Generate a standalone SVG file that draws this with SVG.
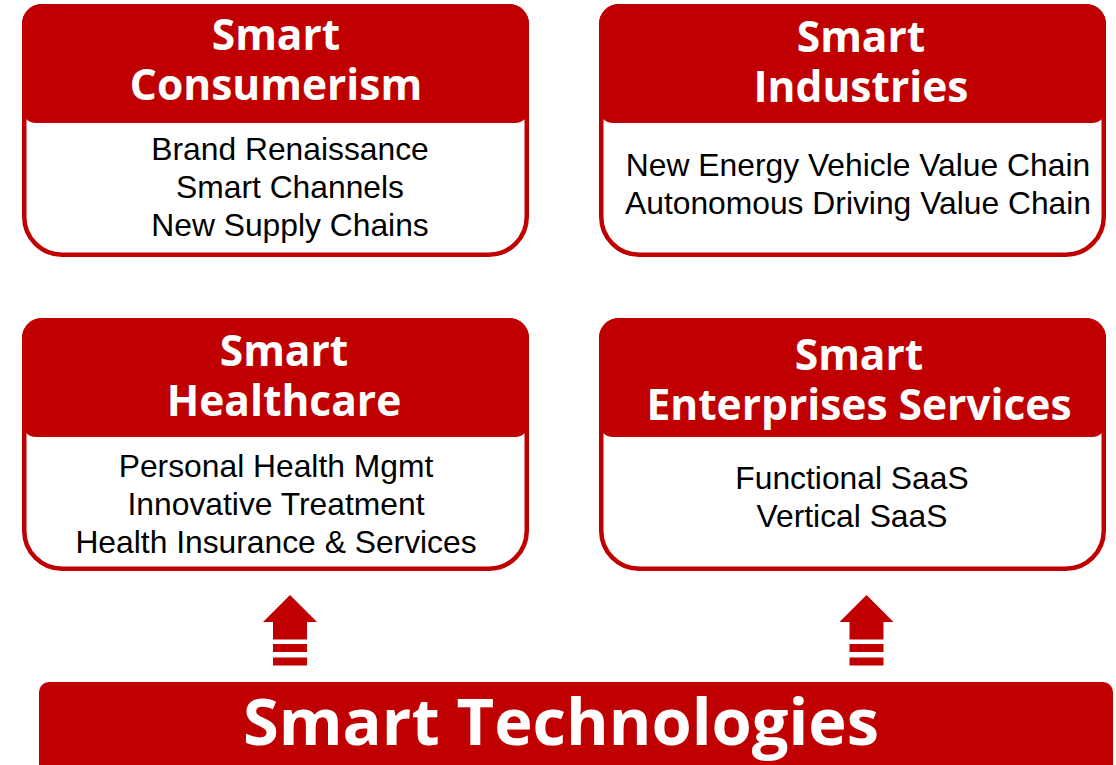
<svg xmlns="http://www.w3.org/2000/svg" xmlns:xlink="http://www.w3.org/1999/xlink" width="1116" height="765" viewBox="0 0 1116 765">
<style>
.outline{fill:#fff;stroke:#C00000;stroke-width:4.5}
.header{fill:#C00000}
.title{font-family:"Open Sans","Noto Sans",sans-serif;font-weight:bold;font-size:42.5px;fill:#fff;text-anchor:middle}
.body{font-family:"Liberation Sans",Arial,sans-serif;font-size:31.8px;fill:#000;text-anchor:middle}
.arrow{fill:#C00000}
.big{font-family:"Open Sans","Noto Sans",sans-serif;font-weight:bold;font-size:65px;fill:#fff;text-anchor:middle}
</style>
<defs>
<path id="boxOutline" class="outline" d="M2.25,20.25 A18,18 0 0 1 20.25,2.25 H486.75 A18,18 0 0 1 504.75,20.25 V212.75 A38,38 0 0 1 466.75,250.75 H40.25 A38,38 0 0 1 2.25,212.75 Z"/>
<path id="boxHeader" class="header" d="M0,20 A20,20 0 0 1 20,0 H487 A20,20 0 0 1 507,20 V105 A14,14 0 0 1 493,119 H14 A14,14 0 0 1 0,105 Z"/>
<path id="upArrow" class="arrow" d="M0,0 L27,27 H17 V44.5 H-17 V27 H-27 Z M-17,49 H17 V57 H-17 Z M-17,62.5 H17 V70.5 H-17 Z"/>
</defs>

<g id="node-consumerism">
<use xlink:href="#boxOutline" x="22" y="4"/>
<use xlink:href="#boxHeader" x="22" y="4"/>
<text class="title" x="276" y="50">Smart</text>
<text class="title" x="276" y="100">Consumerism</text>
<text class="body" x="290" y="160">Brand Renaissance</text>
<text class="body" x="290" y="198">Smart Channels</text>
<text class="body" x="290" y="236">New Supply Chains</text>
</g>

<g id="node-industries">
<use xlink:href="#boxOutline" x="599" y="4"/>
<use xlink:href="#boxHeader" x="599" y="4"/>
<text class="title" x="861" y="52">Smart</text>
<text class="title" x="861" y="102">Industries</text>
<text class="body" x="858" y="176">New Energy Vehicle Value Chain</text>
<text class="body" x="858" y="214">Autonomous Driving Value Chain</text>
</g>

<g id="node-healthcare">
<use xlink:href="#boxOutline" x="22" y="318"/>
<use xlink:href="#boxHeader" x="22" y="318"/>
<text class="title" x="284" y="366">Smart</text>
<text class="title" x="284" y="416">Healthcare</text>
<text class="body" x="276" y="477">Personal Health Mgmt</text>
<text class="body" x="276" y="515">Innovative Treatment</text>
<text class="body" x="276" y="553">Health Insurance &amp; Services</text>
</g>

<g id="node-enterprise">
<use xlink:href="#boxOutline" x="599" y="318"/>
<use xlink:href="#boxHeader" x="599" y="318"/>
<text class="title" x="859" y="370">Smart</text>
<text class="title" x="859" y="420">Enterprises Services</text>
<text class="body" x="852" y="489">Functional SaaS</text>
<text class="body" x="852" y="527">Vertical SaaS</text>
</g>

<g id="connectors">
<use xlink:href="#upArrow" x="290" y="595"/>
<use xlink:href="#upArrow" x="866.5" y="595"/>
</g>

<g id="node-technologies">
<rect x="39" y="682" width="1074" height="100" rx="10" fill="#C00000"/>
<text class="big" x="561" y="745">Smart Technologies</text>
</g>
</svg>
